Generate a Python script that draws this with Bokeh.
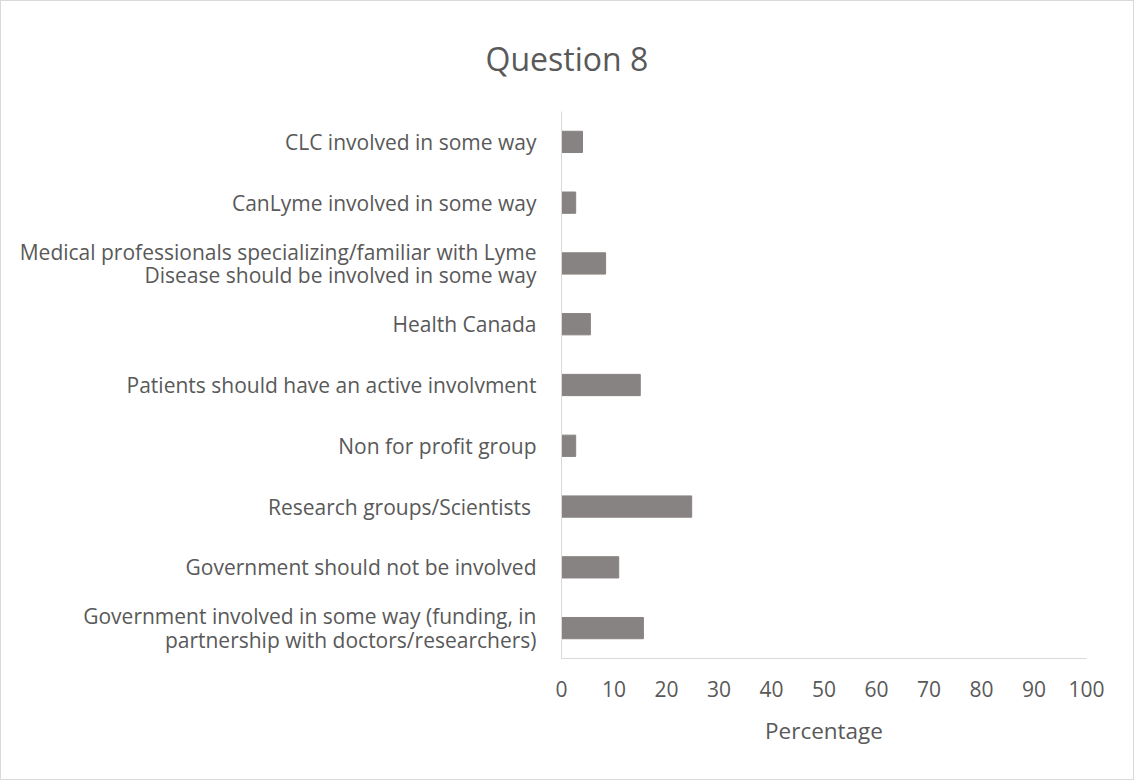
from bokeh.plotting import figure
from bokeh.models import FactorRange, Range1d, FixedTicker, Title
from bokeh.embed import file_html
from bokeh.resources import INLINE

categories = [
    "Government involved in some way (funding, in\npartnership with doctors/researchers)",
    "Government should not be involved",
    "Research groups/Scientists ",
    "Non for profit group",
    "Patients should have an active involvment",
    "Health Canada",
    "Medical professionals specializing/familiar with Lyme\nDisease should be involved in some way",
    "CanLyme involved in some way",
    "CLC involved in some way",
]
values = [15.6, 10.9, 24.8, 2.7, 15.0, 5.5, 8.4, 2.7, 4.0]
x_ticks = [0, 10, 20, 30, 40, 50, 60, 70, 80, 90, 100]

FONT = "Open Sans"
TXT = "#595959"

p = figure(width=1134, height=780, output_backend="svg", toolbar_location=None,
           y_range=FactorRange(*categories, range_padding=0),
           x_range=Range1d(0, 100),
           min_border_left=560, min_border_right=49, min_border_top=110, min_border_bottom=123)
p.title = None
p.hbar(y=categories, right=values, left=0, height=0.35, color="#878382")

t = Title(text="Question 8", align="left", offset=-76, text_font=FONT,
          text_font_size="32px", text_color=TXT, text_font_style="normal", standoff=64)
p.add_layout(t, "above")

p.outline_line_color = None
p.xgrid.grid_line_color = None
p.ygrid.grid_line_color = None

p.xaxis.ticker = FixedTicker(ticks=x_ticks)
p.xaxis.axis_line_color = "#d9d9d9"
p.xaxis.major_tick_line_color = None
p.xaxis.minor_tick_line_color = None
p.xaxis.major_label_standoff = 16
p.xaxis.major_label_text_font = FONT
p.xaxis.major_label_text_font_size = "21px"
p.xaxis.major_label_text_color = TXT
p.xaxis.axis_label = "Percentage"
p.xaxis.axis_label_text_font = FONT
p.xaxis.axis_label_text_font_size = "22.5px"
p.xaxis.axis_label_text_font_style = "normal"
p.xaxis.axis_label_text_color = TXT
p.xaxis.axis_label_standoff = 15

p.yaxis.axis_line_color = "#d9d9d9"
p.yaxis.major_tick_line_color = None
p.yaxis.minor_tick_line_color = None
p.yaxis.major_label_standoff = 19
p.yaxis.major_label_text_font = FONT
p.yaxis.major_label_text_font_size = "21px"
p.yaxis.major_label_text_color = TXT
p.yaxis.major_label_text_line_height = 0.85

p.border_fill_color = "white"
p.styles = {"border": "1px solid #d9d9d9", "box-sizing": "border-box"}

open("out.html", "w").write(file_html(p, INLINE))
